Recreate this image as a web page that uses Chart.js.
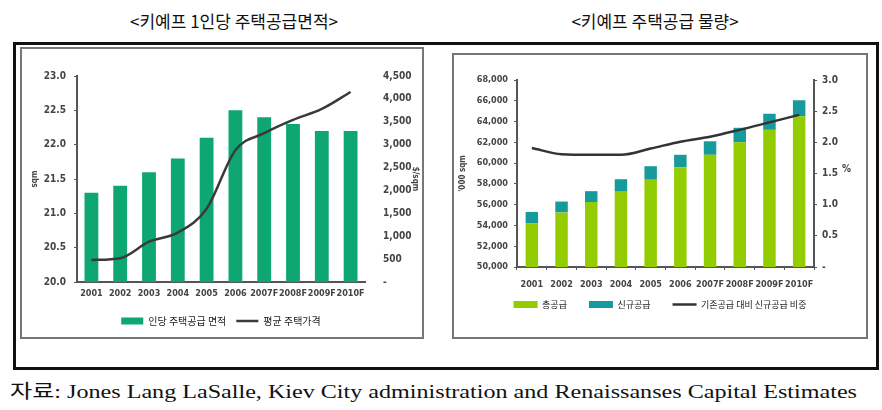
<!DOCTYPE html>
<html>
<head>
<meta charset="utf-8">
<script src="https://cdn.jsdelivr.net/npm/chart.js@4.4.0/dist/chart.umd.min.js"></script>
<style>
  body { margin: 0; background: #fff; width: 882px; height: 410px; position: relative; overflow: hidden; }
  .abs { position: absolute; }
  .title { font-family: 'Noto Sans CJK KR', sans-serif; font-size: 17px; color: #111; white-space: nowrap; top: 8px; }
  #outer { left: 13px; top: 42px; width: 860px; height: 322px; border: 3px solid #111; }
  #panelL { left: 20px; top: 47px; width: 400px; height: 288px; border: 2px solid #777; }
  #panelR { left: 452px; top: 53px; width: 412px; height: 282px; border: 2px solid #777; }
  #note { left: 10px; top: 376px; font-family: 'Liberation Serif', 'Noto Sans CJK KR', serif; font-size: 19px; color: #111; white-space: nowrap; transform-origin: left top; }
  #pct { left: 842px; top: 163px; font-family: 'DejaVu Sans Condensed', sans-serif; font-weight: bold; font-size: 10px; color: #444; }
</style>
</head>
<body>
<div class="abs title" id="titleL">&lt;키예프 1인당 주택공급면적&gt;</div>
<div class="abs title" id="titleR">&lt;키예프 주택공급 물량&gt;</div>
<div class="abs" id="outer"></div>
<div class="abs" id="panelL"></div>
<div class="abs" id="panelR"></div>
<canvas class="abs" id="chartL" width="398" height="286" style="left:22px;top:50px;"></canvas>
<canvas class="abs" id="chartR" width="412" height="281" style="left:454px;top:55px;"></canvas>
<div class="abs" id="pct">%</div>
<div class="abs" id="note">자료: Jones Lang LaSalle, Kiev City administration and Renaissanses Capital Estimates</div>
<script>
'use strict';

const years = ['2001', '2002', '2003', '2004', '2005', '2006', '2007F', '2008F', '2009F', '2010F'];

// left chart
const areaPerCapita = [21.3, 21.4, 21.6, 21.8, 22.1, 22.5, 22.4, 22.3, 22.2, 22.2];
const avgPrice = [480, 520, 880, 1080, 1600, 2880, 3250, 3540, 3780, 4150];

// right chart
const totalSupply = [54200, 55250, 56250, 57250, 58400, 59600, 60800, 62000, 63200, 64500];
const newSupply = [1100, 1050, 1050, 1200, 1300, 1200, 1300, 1400, 1550, 1550];
const newShare = [1.91, 1.81, 1.80, 1.80, 1.90, 2.01, 2.09, 2.20, 2.32, 2.44];

const tickFont = { family: 'DejaVu Sans Condensed', weight: 'bold', size: 10 };
const ink = '#444';
const byDataset = (a, b) => a.datasetIndex - b.datasetIndex;

function centerTitle(id, cx) {
  const el = document.getElementById(id);
  el.style.left = (cx - el.getBoundingClientRect().width / 2) + 'px';
}
centerTitle('titleL', 234);
centerTitle('titleR', 655);

const note = document.getElementById('note');
note.style.transform = 'scaleX(' + (847 / note.getBoundingClientRect().width) + ')';

// wide gaps between legend items but a short legend box
const legendShift = {
  id: 'legendShift',
  afterInit(chart) {
    const lg = chart.legend;
    const fit = lg.fit;
    lg.fit = function () { fit.call(this); this.height -= 12; };
  },
  afterLayout(chart) {
    chart.legend.top -= 12;
  }
};

Chart.defaults.devicePixelRatio = 1;
Chart.defaults.color = ink;

new Chart(document.getElementById('chartL'), {
  type: 'bar',
  data: {
    labels: years,
    datasets: [
      {
        label: '인당 주택공급 면적',
        data: areaPerCapita,
        yAxisID: 'y',
        backgroundColor: '#0ea772',
        pointStyle: 'rect',
        barPercentage: 1,
        categoryPercentage: 0.48,
        order: 1
      },
      {
        type: 'line',
        label: '평균 주택가격',
        data: avgPrice,
        yAxisID: 'y1',
        borderColor: '#3a3a3a',
        backgroundColor: '#3a3a3a',
        borderWidth: 2.5,
        pointRadius: 0,
        pointStyle: 'line',
        cubicInterpolationMode: 'monotone',
        order: 0
      }
    ]
  },
  options: {
    responsive: false,
    animation: false,
    layout: { padding: { top: 26, left: 0, right: 0, bottom: 0 } },
    plugins: {
      tooltip: { enabled: false },
      legend: {
        position: 'bottom',
        labels: {
          sort: byDataset,
          usePointStyle: true,
          pointStyleWidth: 22,
          boxHeight: 7,
          padding: 10,
          font: { family: 'Noto Sans CJK KR', size: 10 },
          color: '#222'
        }
      }
    },
    scales: {
      x: {
        offset: true,
        grid: { display: true, drawOnChartArea: false, tickLength: 0, offset: true },
        border: { display: true, color: '#555', width: 2 },
        ticks: { font: { ...tickFont, size: 9 }, padding: 6, maxRotation: 0, autoSkip: false },
        afterFit(scale) { scale.height = 24; }
      },
      y: {
        min: 20,
        max: 23,
        ticks: { stepSize: 0.5, font: tickFont, padding: 8, callback: (v) => v.toFixed(1) },
        grid: { display: true, drawOnChartArea: false, tickLength: 3, color: '#555' },
        border: { display: true, color: '#555', width: 2 },
        title: { display: true, text: 'sqm', font: { ...tickFont, size: 8 }, padding: { top: 8, bottom: 0 } },
        afterFit(scale) { scale.width = 55; }
      },
      y1: {
        position: 'right',
        min: 0,
        max: 4500,
        ticks: {
          stepSize: 500,
          font: tickFont,
          padding: 10,
          callback: (v) => (v === 0 ? '-' : v.toLocaleString('en-US'))
        },
        grid: { display: false },
        border: { display: false },
        title: { display: true, text: '$/sqm', font: { ...tickFont, size: 8 }, padding: { top: 0, bottom: 8 } },
        afterFit(scale) { scale.width = 55; }
      }
    }
  }
});

new Chart(document.getElementById('chartR'), {
  type: 'bar',
  plugins: [legendShift],
  data: {
    labels: years,
    datasets: [
      {
        label: '총공급',
        data: totalSupply,
        yAxisID: 'y',
        backgroundColor: '#93cc00',
        pointStyle: 'rect',
        barPercentage: 1,
        categoryPercentage: 0.42,
        stack: 'supply',
        order: 1
      },
      {
        label: '신규공급',
        data: newSupply,
        yAxisID: 'y',
        backgroundColor: '#179a9c',
        pointStyle: 'rect',
        barPercentage: 1,
        categoryPercentage: 0.42,
        stack: 'supply',
        order: 1
      },
      {
        type: 'line',
        label: '기존공급 대비 신규공급 비중',
        data: newShare,
        yAxisID: 'y1',
        borderColor: '#333',
        backgroundColor: '#333',
        borderWidth: 2.5,
        pointRadius: 0,
        pointStyle: 'line',
        cubicInterpolationMode: 'monotone',
        order: 0
      }
    ]
  },
  options: {
    responsive: false,
    animation: false,
    layout: { padding: { top: 25, left: 0, right: 0, bottom: 17 } },
    plugins: {
      tooltip: { enabled: false },
      legend: {
        position: 'bottom',
        labels: {
          sort: byDataset,
          usePointStyle: true,
          pointStyleWidth: 24,
          boxHeight: 7,
          padding: 22,
          font: { family: 'Noto Sans CJK KR', size: 9 },
          color: '#222'
        }
      }
    },
    scales: {
      x: {
        stacked: true,
        offset: true,
        grid: { display: true, drawOnChartArea: false, tickLength: 3, offset: true, color: '#555' },
        border: { display: true, color: '#555', width: 2 },
        ticks: { font: { ...tickFont, size: 9 }, padding: 9, maxRotation: 0, autoSkip: false },
        afterFit(scale) { scale.height = 23; }
      },
      y: {
        stacked: true,
        min: 50000,
        max: 68000,
        ticks: { stepSize: 2000, font: { ...tickFont, size: 9 }, padding: 6, callback: (v) => v.toLocaleString('en-US') },
        grid: { display: true, drawOnChartArea: false, tickLength: 3, color: '#555' },
        border: { display: true, color: '#555', width: 2 },
        title: { display: true, text: "'000 sqm", font: { ...tickFont, size: 8 }, padding: { top: 4, bottom: 0 } },
        afterFit(scale) { scale.width = 63; }
      },
      y1: {
        position: 'right',
        min: 0,
        max: 3,
        ticks: { stepSize: 0.5, font: tickFont, padding: 5, callback: (v) => (v === 0 ? '-' : v.toFixed(1)) },
        grid: { display: true, drawOnChartArea: false, tickLength: 3, color: '#555' },
        border: { display: true, color: '#555', width: 2 },
        afterFit(scale) { scale.width = 52; }
      }
    }
  }
});
</script>
</body>
</html>
